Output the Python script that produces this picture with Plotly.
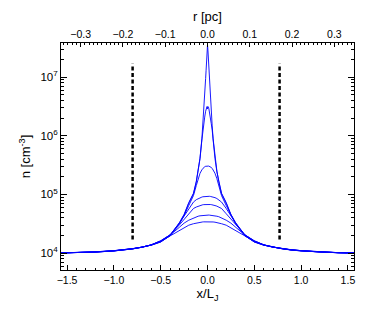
"""Density profiles n(x) across the sheet at successive times, log scale."""

import plotly.graph_objects as go

# half-profile positions (x / L_J); profiles are symmetric about x = 0
X_HALF = [0.0, 0.005, 0.01, 0.015, 0.02, 0.03, 0.04, 0.05, 0.06, 0.08, 0.10, 0.12,
          0.15, 0.2, 0.25, 0.3, 0.4, 0.5, 0.6, 0.7, 0.8, 0.9, 1.0, 1.2, 1.4, 1.6]

# log10 n [cm^-3], one list per snapshot
LOG_N = [
    [7.55, 7.45, 7.28, 7.12, 6.98, 6.68, 6.40, 6.17, 5.95, 5.62, 5.40, 5.22,
     5.02, 4.86, 4.66, 4.52, 4.30, 4.19, 4.135, 4.10, 4.075, 4.055, 4.04, 4.02, 4.006, 4.0],
    [6.46, 6.50, 6.49, 6.46, 6.42, 6.32, 6.21, 6.10, 5.93, 5.61, 5.39, 5.21,
     5.01, 4.85, 4.65, 4.51, 4.295, 4.19, 4.135, 4.10, 4.075, 4.055, 4.04, 4.02, 4.006, 4.0],
    [5.485, 5.485, 5.484, 5.483, 5.48, 5.475, 5.46, 5.445, 5.42, 5.36, 5.27, 5.15,
     4.98, 4.81, 4.64, 4.50, 4.295, 4.19, 4.135, 4.10, 4.073, 4.053, 4.038, 4.018, 4.005, 4.0],
    [4.970, 4.970, 4.969, 4.969, 4.968, 4.966, 4.963, 4.960, 4.955, 4.945, 4.93, 4.91,
     4.87, 4.76, 4.63, 4.51, 4.31, 4.21, 4.14, 4.10, 4.072, 4.052, 4.037, 4.017, 4.005, 4.0],
    [4.830, 4.830, 4.830, 4.829, 4.829, 4.828, 4.826, 4.824, 4.82, 4.81, 4.80, 4.785,
     4.76, 4.67, 4.58, 4.48, 4.31, 4.205, 4.14, 4.10, 4.071, 4.051, 4.036, 4.016, 4.005, 4.0],
    [4.648, 4.648, 4.648, 4.648, 4.647, 4.646, 4.645, 4.643, 4.64, 4.635, 4.628, 4.62,
     4.60, 4.56, 4.51, 4.44, 4.305, 4.205, 4.14, 4.10, 4.07, 4.05, 4.035, 4.016, 4.005, 4.0],
    [4.534, 4.534, 4.534, 4.534, 4.533, 4.533, 4.532, 4.531, 4.53, 4.526, 4.52, 4.513,
     4.50, 4.475, 4.43, 4.38, 4.29, 4.20, 4.138, 4.098, 4.07, 4.05, 4.035, 4.016, 4.005, 4.0],
]

# vertical dashed markers
DASH_X = [-0.80, 0.77]
DASH_Y = [1.7e4, 1.7e7]

X_RANGE = 1.565          # |x/L_J| shown
PC_PER_LJ = 0.2214       # top axis scale
Y_TICKS = [1e4, 1e5, 1e6, 1e7]
Y_TICKTEXT = ["10<sup>4</sup>", "10<sup>5</sup>", "10<sup>6</sup>", "10<sup>7</sup>"]
Y_MINOR = [m * 10 ** e for e in range(3, 8) for m in range(2, 10)]

FONT = "Liberation Sans, Arial, Helvetica, sans-serif"

fig = go.Figure()

x_full = [-x for x in X_HALF[::-1]] + X_HALF[1:]
for logs in LOG_N:
    y_full = logs[::-1] + logs[1:]
    fig.add_trace(go.Scatter(
        x=x_full, y=[10 ** v for v in y_full], mode="lines",
        line=dict(color="#0000ff", width=0.9), showlegend=False, hoverinfo="skip",
    ))

for xd in DASH_X:
    fig.add_trace(go.Scatter(
        x=[xd, xd], y=DASH_Y, mode="lines",
        line=dict(color="black", width=2.5, dash="4px,2.5px"),
        showlegend=False, hoverinfo="skip",
    ))

# carrier trace so the top (pc) axis gets drawn
fig.add_trace(go.Scatter(x=[], y=[], xaxis="x2", showlegend=False, hoverinfo="skip"))

axis_common = dict(
    showgrid=False, zeroline=False, showline=True, linecolor="black", linewidth=1,
    ticks="inside", tickcolor="black", tickwidth=1, automargin=False,
    tickfont=dict(size=10.5, color="black", family=FONT),
)

fig.update_layout(
    width=390, height=321,
    margin=dict(l=61, r=36, t=43, b=51),
    paper_bgcolor="white", plot_bgcolor="white",
    font=dict(family=FONT, size=11, color="black"),
    xaxis=dict(
        **axis_common, range=[-X_RANGE, X_RANGE], tick0=0, dtick=0.5, tickformat=".1f",
        ticklen=5, mirror=True,
        minor=dict(ticks="inside", ticklen=2.5, dtick=0.1, tickcolor="black"),
        title=dict(text="x/L<sub>J</sub>", standoff=4),
    ),
    xaxis2=dict(
        **axis_common, overlaying="x", side="top",
        range=[-X_RANGE * PC_PER_LJ, X_RANGE * PC_PER_LJ], tick0=0, dtick=0.1,
        tickformat=".1f", ticklen=4,
        minor=dict(ticks="inside", ticklen=2, dtick=0.01, tickcolor="black"),
        title=dict(text="r [pc]", standoff=3),
    ),
    yaxis=dict(
        **axis_common, type="log", range=[3.71, 7.585],
        tickvals=Y_TICKS, ticktext=Y_TICKTEXT, ticklen=6, mirror="ticks",
        tickfont_size=11.5,
        minor=dict(ticks="inside", ticklen=3, tickcolor="black", tickvals=Y_MINOR),
        title=dict(text="n [cm<sup>-3</sup>]", standoff=6),
    ),
)

# the page body has a default margin; drop it so the figure sits at the window origin
fig.write_html(
    "out.html",
    config={"displayModeBar": False},
    post_script="document.body.style.margin='0';",
)
